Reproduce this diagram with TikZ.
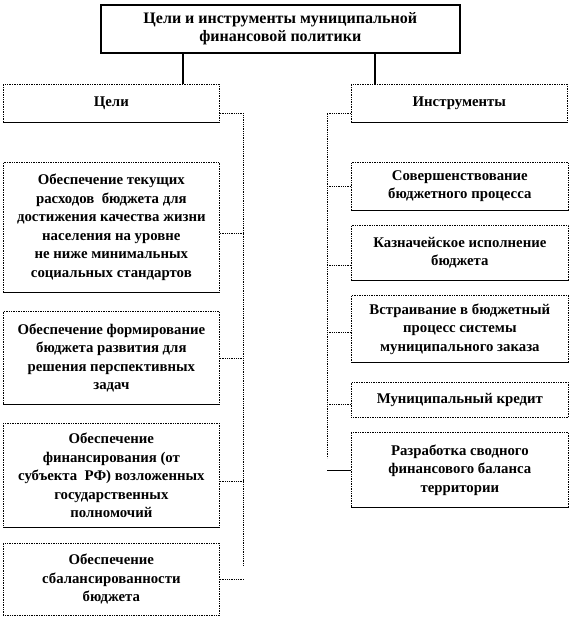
\documentclass[tikz,border=0pt]{standalone}
\usepackage{fontspec}
\setmainfont{Liberation Serif}
\begin{document}
\begin{tikzpicture}[x=1pt,y=-1pt,
  txt/.style={align=center, inner sep=1pt, font=\bfseries\fontsize{14.8}{18.5}\selectfont},
  box/.style={txt, draw, densely dotted, line width=0.7pt, anchor=north west},
  titlebox/.style={txt, draw, solid, line width=1.6pt, anchor=north west, font=\bfseries\fontsize{16}{18}\selectfont},
  conn/.style={densely dotted, line width=0.8pt},
  solidconn/.style={line width=1.1pt},
  bottom/.style={line width=0.9pt}]
\useasboundingbox (0,0) rectangle (570,618);

\node[titlebox, minimum width=359pt, minimum height=48pt] (title) at (100,4)
  {Цели и инструменты муниципальной\\финансовой политики};

\node[box, minimum width=216pt, minimum height=38pt] (goals) at (3,84) {Цели};
\node[box, minimum width=216pt, minimum height=38pt] (instr) at (351,84) {Инструменты};

\node[box, minimum width=216pt, minimum height=130pt] (g1) at (3,162)
  {Обеспечение текущих\\расходов\ \ бюджета для\\достижения качества жизни\\населения на уровне\\не ниже минимальных\\социальных стандартов};
\node[box, minimum width=216pt, minimum height=93pt] (g2) at (3,311)
  {Обеспечение формирование\\бюджета развития для\\решения перспективных\\задач};
\node[box, minimum width=216pt, minimum height=104pt] (g3) at (3,423)
  {Обеспечение\\финансирования (от\\субъекта\ \ РФ) возложенных\\государственных\\полномочий};
\node[box, minimum width=216pt, minimum height=72pt] (g4) at (3,543)
  {Обеспечение\\сбалансированности\\бюджета};

\node[box, minimum width=217pt, minimum height=48pt] (i1) at (351,162)
  {Совершенствование\\бюджетного процесса};
\node[box, minimum width=217pt, minimum height=55pt] (i2) at (351,225)
  {Казначейское исполнение\\бюджета};
\node[box, minimum width=217pt, minimum height=67pt] (i3) at (351,295)
  {Встраивание в бюджетный\\процесс системы\\муниципального заказа};
\node[box, minimum width=217pt, minimum height=35pt] (i4) at (351,382)
  {Муниципальный кредит};
\node[box, minimum width=217pt, minimum height=75pt] (i5) at (351,432)
  {Разработка сводного\\финансового баланса\\территории};

\foreach \n in {goals,instr,g1,g2,g3,i1,i2,i3,i5}
  \draw[bottom] (\n.south west) -- (\n.south east);

% title to headers
\coordinate (tl) at (183,60);
\coordinate (tr) at (375,60);
\draw[solidconn] (title.south -| tl) -- (tl |- goals.north);
\draw[solidconn] (title.south -| tr) -- (tr |- instr.north);

% left bus
\coordinate (lbTop) at (243,113);
\coordinate (lbBot) at (243,565);
\draw[conn] (goals.east |- lbTop) -- (lbTop) -- (lbBot);
\draw[conn] ([yshift=-6pt]g1.east) -- ++(24,0);
\draw[conn] ([yshift=-0.5pt]g2.east) -- ++(24,0);
\draw[conn] ([yshift=-6pt]g3.east) -- ++(24,0);
\draw[conn] ([yshift=0pt]g4.east) -- ++(24,0);

% right bus
\coordinate (rbTop) at (327,113);
\coordinate (rbBot) at (327,458);
\draw[conn] (instr.west |- rbTop) -- (rbTop) -- (rbBot);
\draw[conn] (i1.west) -- ++(-24,0);
\draw[conn] ([yshift=-13pt]i2.west) -- ++(-24,0);
\draw[conn] ([yshift=-3.5pt]i3.west) -- ++(-24,0);
\draw[conn] ([yshift=-5pt]i4.west) -- ++(-24,0);
\draw[solidconn] ([yshift=-1pt]i5.west) -- ++(-24,0);
\end{tikzpicture}
\end{document}
